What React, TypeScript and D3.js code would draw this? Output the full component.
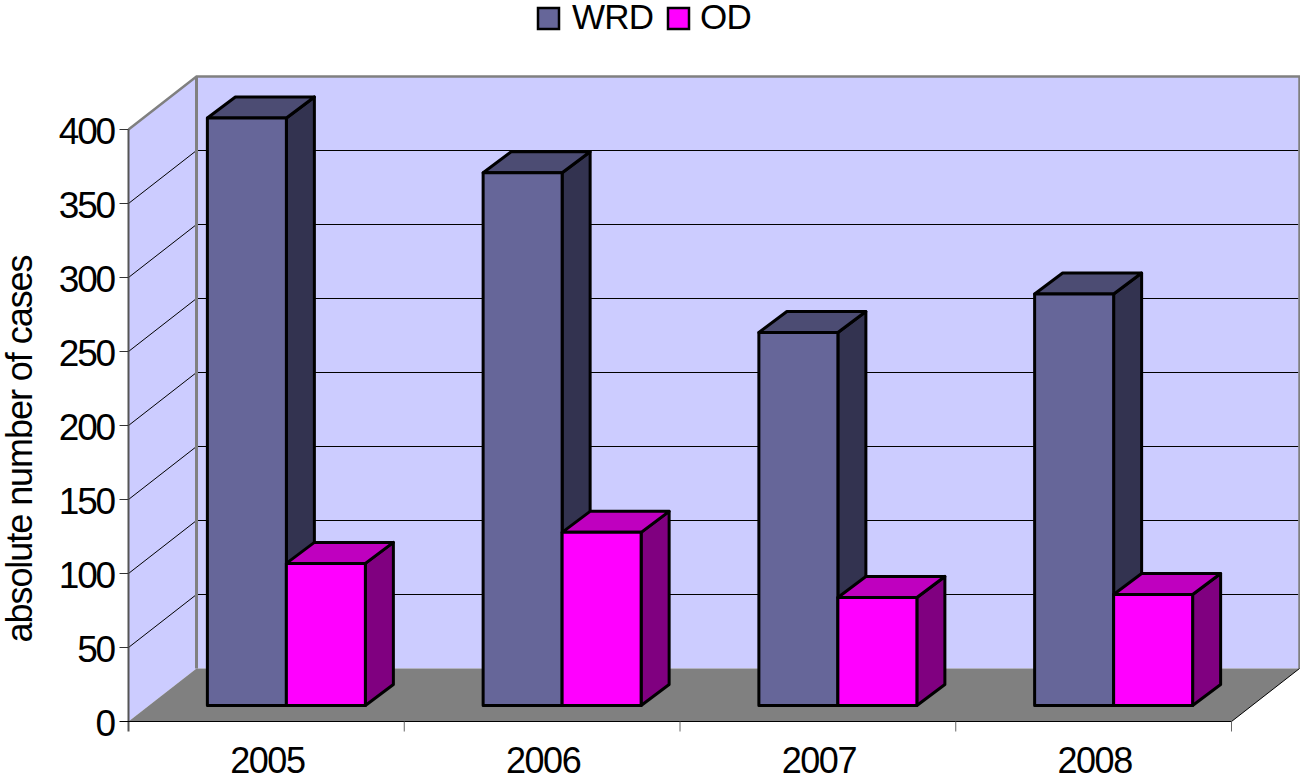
import React, { useEffect, useRef } from 'react';
import * as d3 from 'd3';

const years = ['2005', '2006', '2007', '2008'];
const seriesNames = ['WRD', 'OD'];
const wrd = [397, 360, 252, 278];
const od = [96, 117, 73, 75];
const yTicks = [0, 50, 100, 150, 200, 250, 300, 350, 400];

const colors: Record<string, { front: string; top: string; side: string }> = {
  WRD: { front: '#666699', top: '#4c4c73', side: '#333350' },
  OD: { front: '#ff00ff', top: '#bf00bf', side: '#800080' },
};

const FONT = '"Liberation Sans", Arial, sans-serif';

const App = () => {
  const svgRef = useRef<SVGSVGElement>(null);

  useEffect(() => {
    const svg = d3.select(svgRef.current);
    svg.selectAll('*').remove();

    const x = d3.scaleBand().domain(years).range([128.5, 1231.5]);
    const y = d3.scaleLinear().domain([0, 400]).range([721.5, 129.5]);

    // depth of the box, and where the bars stand inside it
    const dx = 68, dy = -53;
    const barShiftX = 20, barShiftY = -16;
    const barDx = 28, barDy = -21;
    const groupWidth = 158;
    const sub = d3.scaleBand().domain(seriesNames).range([0, groupWidth]);

    const x0 = 128.5, x1 = 1231.5, y0 = y(0), y1 = y(400);
    const poly = (pts: number[][]) => pts.map(p => p.join(',')).join(' ');

    // walls and floor
    svg.append('polygon')
      .attr('points', poly([[x0, y0], [x0, y1], [x0 + dx, y1 + dy], [x0 + dx, y0 + dy]]))
      .attr('fill', '#ccccff');
    svg.append('polygon')
      .attr('points', poly([[x0 + dx, y0 + dy], [x0 + dx, y1 + dy], [x1 + dx, y1 + dy], [x1 + dx, y0 + dy]]))
      .attr('fill', '#ccccff');
    svg.append('polygon')
      .attr('points', poly([[x0, y0], [x0 + dx, y0 + dy], [x1 + dx, y0 + dy], [x1, y0]]))
      .attr('fill', '#808080');

    // gridlines, side wall then back wall
    yTicks.filter(t => t > 0 && t < 400).forEach(t => {
      svg.append('polyline')
        .attr('points', poly([[x0, y(t)], [x0 + dx, y(t) + dy], [x1 + dx - 1, y(t) + dy]]))
        .attr('fill', 'none')
        .attr('stroke', '#000')
        .attr('stroke-width', 1);
    });

    // wall outline
    svg.append('polyline')
      .attr('points', poly([[x0, y1], [x0 + dx, y1 + dy], [x1 + dx, y1 + dy], [x1 + dx, y0 + dy]]))
      .attr('fill', 'none')
      .attr('stroke', '#808080')
      .attr('stroke-width', 2.5);
    svg.append('line')
      .attr('x1', x0 + dx).attr('x2', x0 + dx)
      .attr('y1', y1 + dy).attr('y2', y0 + dy)
      .attr('stroke', '#808080')
      .attr('stroke-width', 3);
    svg.append('line')
      .attr('x1', x0).attr('x2', x0)
      .attr('y1', y1).attr('y2', y0 + 10)
      .attr('stroke', '#555')
      .attr('stroke-width', 2);

    // front axis lines and ticks
    svg.append('line')
      .attr('x1', x0 - 9).attr('x2', x1).attr('y1', y0).attr('y2', y0)
      .attr('stroke', '#000').attr('stroke-width', 1);
    svg.append('line')
      .attr('x1', x1).attr('x2', x1 + dx).attr('y1', y0).attr('y2', y0 + dy)
      .attr('stroke', '#000').attr('stroke-width', 1);
    yTicks.filter(t => t > 0).forEach(t => {
      svg.append('line')
        .attr('x1', x0 - 9).attr('x2', x0).attr('y1', y(t)).attr('y2', y(t))
        .attr('stroke', '#333').attr('stroke-width', 1);
    });
    [...years.slice(1).map(c => x(c) as number), x1].forEach(px => {
      svg.append('line')
        .attr('x1', px).attr('x2', px).attr('y1', y0).attr('y2', y0 + 10)
        .attr('stroke', '#666').attr('stroke-width', 1);
    });

    // bars
    const values: Record<string, number[]> = { WRD: wrd, OD: od };
    years.forEach((year, i) => {
      const groupX = (x(year) as number) + (x.bandwidth() - groupWidth) / 2 + barShiftX;
      seriesNames.forEach(name => {
        const c = colors[name];
        const left = groupX + (sub(name) as number);
        const right = left + sub.bandwidth();
        const bottom = y(0) + barShiftY;
        const top = y(values[name][i]) + barShiftY;
        const g = svg.append('g')
          .attr('stroke', '#000')
          .attr('stroke-width', 3)
          .attr('stroke-linejoin', 'round');
        g.append('polygon')
          .attr('points', poly([[right, bottom], [right, top], [right + barDx, top + barDy], [right + barDx, bottom + barDy]]))
          .attr('fill', c.side);
        g.append('polygon')
          .attr('points', poly([[left, top], [left + barDx, top + barDy], [right + barDx, top + barDy], [right, top]]))
          .attr('fill', c.top);
        g.append('rect')
          .attr('x', left).attr('y', top)
          .attr('width', right - left).attr('height', bottom - top)
          .attr('fill', c.front);
      });
    });

    // labels
    const text = (s: string, px: number, py: number, anchor: string, size: number, spacing: number) =>
      svg.append('text')
        .attr('x', px).attr('y', py)
        .attr('text-anchor', anchor)
        .attr('font-family', FONT)
        .attr('font-size', size)
        .attr('letter-spacing', spacing)
        .attr('fill', '#000')
        .text(s);

    yTicks.forEach(t => text(String(t), 114, y(t) + 14, 'end', 37, -2.2));
    years.forEach(c => text(c, (x(c) as number) + x.bandwidth() / 2 + 1, 773, 'middle', 36, -1.5));

    text('absolute number of cases', 0, 0, 'middle', 36, -1.05)
      .attr('transform', 'translate(32,449) rotate(-90)');

    // legend
    const legend = [
      { name: 'WRD', box: 538, label: 572, spacing: -0.8 },
      { name: 'OD', box: 668, label: 700, spacing: -0.8 },
    ];
    legend.forEach(l => {
      svg.append('rect')
        .attr('x', l.box).attr('y', 8)
        .attr('width', 21).attr('height', 21)
        .attr('fill', colors[l.name].front)
        .attr('stroke', '#000').attr('stroke-width', 2.5);
      text(l.name, l.label, 29, 'start', 35, l.spacing);
    });
  }, []);

  return (
    <svg
      ref={svgRef}
      width={1300}
      height={778}
      style={{ position: 'absolute', left: 0, top: 0, display: 'block' }}
    />
  );
};

export default App;
